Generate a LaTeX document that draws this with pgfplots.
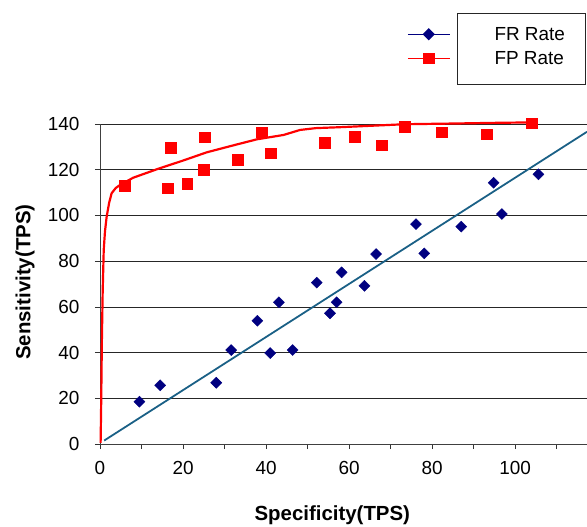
\documentclass[border=0pt]{standalone}
\usepackage{fontspec}
\setmainfont{Liberation Sans}
\usepackage{pgfplots}
\pgfplotsset{compat=1.18}
\definecolor{frblue}{RGB}{0,0,128}
\definecolor{fpred}{RGB}{255,0,0}
\definecolor{fitblue}{RGB}{26,96,134}
\begin{document}
\begin{tikzpicture}
\begin{axis}[
 at={(0,0)}, anchor=south west,
 scale only axis, width=487bp, height=320bp,
 xmin=0, xmax=117.3, ymin=0, ymax=140,
 axis x line*=bottom, axis y line*=left,
 axis line style={black!75, line width=0.9pt},
 xtick={0,10,...,110}, xticklabels={0,,20,,40,,60,,80,,100,},
 ytick={0,20,...,140},
 ymajorgrids, grid style={black!85, line width=0.7pt},
 tick align=outside, major tick length=5bp,
 tick style={black!80, line width=0.7pt},
 /pgf/number format/assume math mode=true,
 ticklabel style={font=\fontsize{19}{22}\selectfont},
 xticklabel style={yshift=-9bp},
 yticklabel style={xshift=-12bp},
 xlabel={Specificity(TPS)}, ylabel={Sensitivity(TPS)},
 label style={font=\fontsize{20.5}{24}\selectfont\bfseries},
 x label style={at={(axis description cs:0.477,-0.222)}, anchor=center},
 y label style={at={(axis description cs:-0.154,0.506)}, anchor=center},
 clip=false,
 legend style={draw=none, fill=none, at={(axis description cs:0.630,1.31)}, anchor=north west,
   font=\fontsize{19}{22}\selectfont, row sep=6bp, inner sep=0pt},
 legend cell align=left,
 legend image code/.code={\draw[mark repeat=2,mark phase=2,#1] plot coordinates {(0bp,0bp) (21bp,0bp) (42bp,0bp)};},
]
\addlegendimage{frblue, line width=1.5pt, mark=square*, mark size=3.6bp, mark options={rotate=45, solid}}
\addlegendentry{\hspace*{42bp}FR Rate}
\addlegendimage{fpred, line width=1.5pt, mark=square*, mark size=5bp, mark options={solid}}
\addlegendentry{\hspace*{42bp}FP Rate}

% fitted line for FR
\addplot[fitblue, line width=1.8pt, forget plot] coordinates {(1,1.5) (117.3,136.6)};
% fitted curve for FP
\addplot[fpred, line width=2.2pt, forget plot] coordinates {
(0.15,0.5) (0.3,20) (0.45,45) (0.65,67) (0.9,85) (1.2,93) (1.6,99.4) (2.2,105.5)
(2.8,109.7) (3.8,112) (4.8,113.3) (8,116.5) (13.7,120.2) (20,124) (25.7,127.6)
(32,130.6) (37.8,133.3) (44.2,135.2) (48.2,137.4) (52,138.2) (57.8,138.6) (65,139.2)
(73.4,139.9) (85,140.2) (95,140.5) (104,140.7)};
% FR Rate points
\addplot[only marks, mark=square*, mark size=3.9bp, mark options={rotate=45}, color=frblue, forget plot] coordinates {
(9.5,18.5) (14.5,25.7) (28.0,26.8) (31.6,41.1) (37.9,53.9) (41.0,39.8) (43.1,62.0)
(46.4,41.1) (52.2,70.6) (55.4,57.2) (57.0,62.0) (58.2,75.1) (63.7,69.2) (66.5,83.1)
(76.1,96.2) (78.1,83.4) (87.0,95.1) (94.8,114.3) (96.8,100.6) (105.6,118.0)};
% FP Rate points
\addplot[only marks, mark=square*, mark size=5.3bp, color=fpred, forget plot] coordinates {
(5.95,112.9) (16.3,111.9) (17.1,129.5) (21.0,113.9) (25.0,120.0) (25.2,134.2)
(33.1,124.5) (38.9,136.4) (41.1,127.2) (54.1,131.7) (61.3,134.4) (67.9,130.8)
(73.4,138.8) (82.3,136.4) (93.2,135.5) (104.0,140.3)};
\end{axis}
\draw[black!85, line width=0.9pt] (357bp,360bp) rectangle (485bp,431bp);
\pgfresetboundingbox
\path[use as bounding box] (-100bp,-83bp) rectangle (487bp,444bp);
\end{tikzpicture}
\end{document}
